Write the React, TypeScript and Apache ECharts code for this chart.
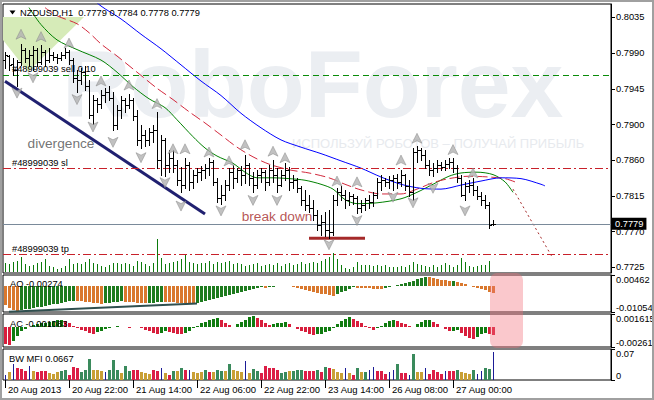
import React, { useEffect, useRef } from 'react';
import * as echarts from 'echarts';

const FONT = '"Liberation Sans", Arial, sans-serif';

const symbolName = 'NZDUSD';
const timeframe = 'H1';
const totalSlots = 152;
const labelEvery = 16;
const xTickLabels = ['20 Aug 2013', '20 Aug 22:00', '21 Aug 14:00', '22 Aug 06:00', '22 Aug 22:00', '23 Aug 14:00', '26 Aug 08:00', '27 Aug 00:00'];

const priceMin = 0.7718;
const priceMax = 0.80515;
const priceTickValues = [0.8035, 0.79907, 0.79464, 0.79021, 0.78579, 0.78136, 0.77693, 0.7725];
const priceTickLabels = ['0.8035', '0.7990', '0.7945', '0.7900', '0.7860', '0.7815', '0.7770', '0.7725'];

// O, H, L, C
const bars: number[][] = [
  [0.7982, 0.7992, 0.7972, 0.7988], [0.7987, 0.7988, 0.7970, 0.7976], [0.7977, 0.7985, 0.7964, 0.7970], [0.7970, 0.7982, 0.7950, 0.7980],
  [0.7980, 0.8002, 0.7976, 0.7995], [0.7995, 0.7997, 0.7980, 0.7985], [0.7985, 0.7995, 0.7975, 0.7988], [0.7988, 0.7999, 0.7970, 0.7995],
  [0.7995, 0.7997, 0.7975, 0.7980], [0.7980, 0.8001, 0.7977, 0.7992], [0.7992, 0.7995, 0.7975, 0.7982], [0.7982, 0.7997, 0.7980, 0.7988],
  [0.7988, 0.7992, 0.7982, 0.7986], [0.7986, 0.7990, 0.7978, 0.7985], [0.7985, 0.7992, 0.7982, 0.7988], [0.7988, 0.7997, 0.7985, 0.7992],
  [0.7992, 0.7995, 0.7977, 0.7982], [0.7982, 0.7985, 0.7955, 0.7960], [0.7960, 0.7970, 0.7942, 0.7957], [0.7957, 0.7972, 0.7952, 0.7967],
  [0.7967, 0.7975, 0.7945, 0.7950], [0.7950, 0.7957, 0.7910, 0.7914], [0.7914, 0.7939, 0.7903, 0.7932], [0.7932, 0.7935, 0.7918, 0.7928],
  [0.7928, 0.7945, 0.7923, 0.7939], [0.7939, 0.7947, 0.7930, 0.7942], [0.7942, 0.7950, 0.7932, 0.7935], [0.7935, 0.7942, 0.7895, 0.7902],
  [0.7902, 0.7926, 0.7897, 0.7920], [0.7920, 0.7937, 0.7910, 0.7932], [0.7932, 0.7935, 0.7918, 0.7926], [0.7926, 0.7940, 0.7923, 0.7932],
  [0.7932, 0.7935, 0.7908, 0.7913], [0.7913, 0.7920, 0.7877, 0.7883], [0.7883, 0.7902, 0.7873, 0.7889], [0.7889, 0.7895, 0.7875, 0.7883],
  [0.7883, 0.7898, 0.7877, 0.7893], [0.7893, 0.7902, 0.7880, 0.7895], [0.7895, 0.7918, 0.7848, 0.7858], [0.7858, 0.7889, 0.7840, 0.7883],
  [0.7883, 0.7885, 0.7838, 0.7852], [0.7852, 0.7870, 0.7843, 0.7861], [0.7861, 0.7871, 0.7843, 0.7852], [0.7852, 0.7858, 0.7827, 0.7833],
  [0.7833, 0.7849, 0.7818, 0.7827], [0.7827, 0.7861, 0.7823, 0.7852], [0.7852, 0.7856, 0.7821, 0.7831], [0.7831, 0.7846, 0.7823, 0.7839],
  [0.7839, 0.7848, 0.7831, 0.7843], [0.7843, 0.7851, 0.7833, 0.7846], [0.7846, 0.7853, 0.7836, 0.7848], [0.7848, 0.7861, 0.7839, 0.7856],
  [0.7856, 0.7858, 0.7827, 0.7831], [0.7831, 0.7836, 0.7806, 0.7811], [0.7811, 0.7827, 0.7804, 0.7815], [0.7815, 0.7833, 0.7808, 0.7827],
  [0.7827, 0.7848, 0.7821, 0.7843], [0.7843, 0.7852, 0.7823, 0.7836], [0.7836, 0.7848, 0.7831, 0.7846], [0.7846, 0.7851, 0.7827, 0.7839],
  [0.7839, 0.7864, 0.7830, 0.7852], [0.7852, 0.7854, 0.7827, 0.7836], [0.7836, 0.7843, 0.7818, 0.7827], [0.7827, 0.7846, 0.7823, 0.7839],
  [0.7839, 0.7848, 0.7831, 0.7843], [0.7843, 0.7846, 0.7821, 0.7831], [0.7831, 0.7852, 0.7827, 0.7846], [0.7846, 0.7858, 0.7831, 0.7839],
  [0.7839, 0.7848, 0.7818, 0.7827], [0.7827, 0.7846, 0.7826, 0.7839], [0.7839, 0.7854, 0.7833, 0.7846], [0.7846, 0.7849, 0.7821, 0.7831],
  [0.7831, 0.7839, 0.7823, 0.7833], [0.7833, 0.7836, 0.7818, 0.7823], [0.7823, 0.7826, 0.7802, 0.7808], [0.7808, 0.7821, 0.7796, 0.7802],
  [0.7802, 0.7815, 0.7794, 0.7799], [0.7799, 0.7808, 0.7784, 0.7790], [0.7790, 0.7796, 0.7771, 0.7778], [0.7778, 0.7790, 0.7765, 0.7781],
  [0.7781, 0.7794, 0.7764, 0.7771], [0.7771, 0.7796, 0.7761, 0.7769], [0.7769, 0.7815, 0.7765, 0.7808], [0.7808, 0.7823, 0.7802, 0.7818],
  [0.7818, 0.7826, 0.7808, 0.7815], [0.7815, 0.7821, 0.7799, 0.7808], [0.7808, 0.7818, 0.7802, 0.7813], [0.7813, 0.7816, 0.7804, 0.7811],
  [0.7811, 0.7813, 0.7792, 0.7799], [0.7799, 0.7808, 0.7794, 0.7802], [0.7802, 0.7811, 0.7796, 0.7808], [0.7808, 0.7815, 0.7799, 0.7806],
  [0.7806, 0.7818, 0.7801, 0.7815], [0.7815, 0.7836, 0.7811, 0.7831], [0.7831, 0.7839, 0.7821, 0.7833], [0.7833, 0.7836, 0.7826, 0.7831],
  [0.7831, 0.7838, 0.7824, 0.7833], [0.7833, 0.7839, 0.7821, 0.7836], [0.7836, 0.7841, 0.7824, 0.7831], [0.7831, 0.7846, 0.7826, 0.7839],
  [0.7839, 0.7841, 0.7821, 0.7826], [0.7826, 0.7833, 0.7813, 0.7818], [0.7818, 0.7873, 0.7808, 0.7868], [0.7868, 0.7875, 0.7856, 0.7870],
  [0.7870, 0.7873, 0.7858, 0.7864], [0.7864, 0.7870, 0.7848, 0.7852], [0.7852, 0.7858, 0.7839, 0.7846], [0.7846, 0.7854, 0.7838, 0.7848],
  [0.7848, 0.7858, 0.7843, 0.7852], [0.7852, 0.7856, 0.7846, 0.7849], [0.7849, 0.7858, 0.7846, 0.7853], [0.7853, 0.7861, 0.7848, 0.7856],
  [0.7856, 0.7861, 0.7843, 0.7848], [0.7848, 0.7852, 0.7831, 0.7836], [0.7836, 0.7839, 0.7813, 0.7815], [0.7815, 0.7831, 0.7808, 0.7826],
  [0.7826, 0.7833, 0.7818, 0.7827], [0.7827, 0.7836, 0.7815, 0.7821], [0.7821, 0.7826, 0.7810, 0.7813], [0.7813, 0.7818, 0.7802, 0.7808],
  [0.7808, 0.7815, 0.7799, 0.7802], [0.7802, 0.7806, 0.7774, 0.7778], [0.7779, 0.7784, 0.7778, 0.7779],
];

const volumes = [
  930, 770, 1000, 1100, 1530, 770, 600, 700, 930, 1000,
  1330, 600, 530, 330, 430, 600, 1330, 770, 870, 770,
  1000, 1270, 870, 770, 600, 500, 670, 870, 930, 830,
  870, 770, 600, 1100, 1000, 770, 600, 930, 3270, 1430,
  770, 930, 1000, 1100, 1330, 1670, 1000, 930, 770, 870,
  930, 1100, 770, 1000, 930, 1000, 1100, 770, 870, 770,
  600, 700, 800, 900, 600, 700, 850, 750, 900, 650,
  800, 950, 700, 850, 1000, 800, 900, 1050, 950, 1100,
  1270, 1530, 1930, 1330, 670, 430, 330, 470, 1000, 730,
  670, 730, 600, 670, 600, 730, 530, 470, 470, 600,
  470, 670, 1000, 770, 670, 600, 530, 670, 470, 670,
  870, 670, 470, 670, 1430, 1000, 600, 470, 600, 670,
  700, 1100, 50,
];
const volumeMax = 4100;

const greenMA = [[6, 0.8047], [9, 0.8026], [13, 0.8007], [18, 0.7995], [24, 0.7982], [28, 0.7967], [32, 0.7949], [36, 0.7934], [40, 0.7923], [43, 0.7908], [47, 0.7887], [50, 0.7873], [53, 0.7863], [57, 0.7854], [60, 0.7843], [63, 0.7836], [67, 0.7836], [71, 0.7835], [75, 0.7833], [79, 0.7828], [82, 0.7822], [85, 0.7809], [88, 0.7804], [93, 0.7805], [99, 0.7810], [103, 0.7818], [107, 0.7828], [111, 0.7838], [114, 0.7842], [118, 0.7843], [122, 0.7840], [125, 0.7831], [127, 0.7818]];
const redMA = [[10, 0.8047], [13, 0.8037], [18, 0.8027], [21, 0.8016], [24, 0.8002], [28, 0.7987], [33, 0.7967], [38, 0.7947], [42, 0.7933], [46, 0.7918], [50, 0.7904], [54, 0.7889], [58, 0.7874], [62, 0.7862], [66, 0.7853], [71, 0.7846], [76, 0.7842], [81, 0.7836], [85, 0.7828], [89, 0.7821], [94, 0.7816], [99, 0.7816], [103, 0.7822], [107, 0.7830], [111, 0.7835], [116, 0.7838], [121, 0.7837], [125, 0.7835], [128, 0.7830]];
const blueMA = [[20, 0.8066], [24, 0.8049], [29, 0.8033], [34, 0.8014], [39, 0.7996], [44, 0.7976], [49, 0.7956], [54, 0.7938], [59, 0.7916], [64, 0.7898], [69, 0.7883], [74, 0.7874], [79, 0.7866], [84, 0.7857], [89, 0.7848], [94, 0.7837], [99, 0.7828], [104, 0.7823], [109, 0.7822], [114, 0.7827], [119, 0.7832], [124, 0.7836], [129, 0.7835], [134, 0.7828], [135, 0.7826]];

const fractalUps = [[4, 0.8014], [9, 0.8011], [16, 0.8003], [24, 0.7956], [31, 0.7951], [38, 0.7928], [42, 0.7872], [45, 0.7872], [51, 0.7868], [56, 0.7857], [60, 0.7877], [67, 0.7869], [70, 0.7861], [83, 0.7832], [88, 0.7831], [99, 0.7858], [103, 0.7885], [112, 0.7871], [117, 0.7842]];
const fractalDowns = [[3, 0.7941], [7, 0.7960], [18, 0.7933], [22, 0.7899], [27, 0.7880], [34, 0.7861], [40, 0.7830], [44, 0.7801], [54, 0.7795], [62, 0.7808], [68, 0.7808], [81, 0.7753], [88, 0.7783], [97, 0.7812], [102, 0.7805], [107, 0.7823], [115, 0.7795]];

const tradeTicket = '#48999039';
const sellLots = '0.10';
const sellLevel = 0.79635;
const slLevel = 0.78478;
const tpLevel = 0.77411;
const bidLevel = 0.7779;

const divergenceLine = [[0, 0.79557], [50, 0.77911]];
const breakDownLine = [[76, 0.7761], [90, 0.7761]];
const projectionLine = [[127, 0.7822], [137, 0.7736]];
const annotations = [
  { name: 'divergence', value: [14, 0.7879], color: '#505050' },
  { name: 'break down', value: [68, 0.7788], color: '#a52a2a' },
];

const aoValues = [
  -0.0077, -0.0090, -0.0097, -0.0101,
  -0.0098, -0.0095, -0.0092, -0.0089, -0.0086, -0.0083, -0.0080, -0.0077, -0.0074, -0.0071, -0.0068, -0.0065, -0.0062, -0.0059,
  -0.0060, -0.0062, -0.0064, -0.0066, -0.0068, -0.0070, -0.0071,
  -0.0070, -0.0068, -0.0066, -0.0064, -0.0062,
  -0.0063, -0.0064, -0.0066, -0.0068, -0.0069, -0.0070,
  -0.0069, -0.0067, -0.0065, -0.0063,
  -0.0064, -0.0065, -0.0066, -0.0067, -0.0068, -0.0069, -0.0070, -0.0071,
  -0.0067, -0.0063, -0.0059, -0.0055, -0.0051, -0.0047, -0.0043, -0.0039, -0.0035, -0.0031,
  -0.0027, -0.0023, -0.0019, -0.0015, -0.0011, -0.0008, -0.0005,
  -0.0006,
  -0.0004, -0.0002, 0.0000, 0.0001, 0.0002,
  0.0000, -0.0003, -0.0006, -0.0010, -0.0014, -0.0018, -0.0022, -0.0026, -0.0030, -0.0033, -0.0036, -0.0038,
  -0.0032, -0.0025, -0.0018, -0.0011, -0.0005,
  -0.0006, -0.0007, -0.0008, -0.0009, -0.0010, -0.0011, -0.0012,
  -0.0008, -0.0004, 0.0000, 0.0004, 0.0008, 0.0012, 0.0016, 0.0022, 0.0028, 0.0034, 0.0038,
  0.0036, 0.0033, 0.0030, 0.0027, 0.0024, 0.0021,
  0.0022,
  0.0018, 0.0013, 0.0008,
  0.0003, -0.0002, -0.0007, -0.0012, -0.0017, -0.0022, -0.00274,
];
const aoMin = -0.01054;
const aoMax = 0.00462;
const aoTickLabels = ['-0.01054', '0.00', '0.00462'];
const aoDivergence = [[1, -0.0104], [48, -0.0071]];

const acValues = [
  -0.0022, -0.0024,
  -0.0019, -0.0012, -0.0006,
  -0.0003, 0.0000, 0.0002, 0.0003, 0.0004, 0.0005, 0.0006, 0.0007, 0.0008, 0.0009,
  0.0007, 0.0004, 0.0001, -0.0002, -0.0004, -0.0006, -0.0008, -0.0009,
  -0.0007, -0.0005, -0.0003, -0.0002,
  0.0000, 0.0001, 0.0000, -0.0001, -0.0002, -0.0001, 0.0000,
  -0.0002, -0.0004, -0.0006, -0.0008, -0.0010,
  -0.0008, -0.0006,
  -0.0007, -0.0008, -0.0009, -0.0010,
  -0.0008, -0.0005, -0.0002, 0.0001, 0.0004, 0.0006, 0.0008, 0.0010, 0.0011,
  0.0008, 0.0005, 0.0002, 0.0000,
  0.0003, 0.0006, 0.0009, 0.0012, 0.0014,
  0.0011, 0.0008, 0.0005, 0.0002,
  0.0003, 0.0004, 0.0005, 0.0006,
  0.0003, 0.0000, -0.0003, -0.0005, -0.0007, -0.0009, -0.0011,
  -0.0010, -0.0009, -0.0007, -0.0005, -0.0002,
  0.0003, 0.0007, 0.0010, 0.0012,
  0.0010, 0.0007, 0.0004, 0.0001, -0.0002, -0.0004,
  -0.0002, 0.0001, 0.0004, 0.0007, 0.0009,
  0.0007, 0.0005, 0.0003, 0.0001, 0.0000,
  0.0003, 0.0006, 0.0008, 0.0009,
  0.0006, 0.0003, 0.0000, -0.0003, -0.0006,
  -0.0005, -0.0004,
  -0.0008, -0.0012, -0.0015, -0.0016,
  -0.0013, -0.0010, -0.0008,
  -0.0010, -0.001083,
];
const acMin = -0.00261;
const acMax = 0.001615;
const acTickLabels = ['-0.00261', '0.00', '0.001615'];

const mfiValues = [
  0.0121, 0.0194, 0.0387, 0.0290, 0.0266, 0.0218, 0.0339, 0.0218, 0.0194, 0.0218,
  0.0218, 0.0169, 0.0145, 0.0194, 0.0218, 0.0242, 0.0121, 0.0315, 0.0290, 0.0194,
  0.0242, 0.0508, 0.0242, 0.0242, 0.0218, 0.0194, 0.0242, 0.0484, 0.0242, 0.0169,
  0.0339, 0.0218, 0.0242, 0.0242, 0.0194, 0.0169, 0.0145, 0.0242, 0.0218, 0.0290,
  0.0169, 0.0121, 0.0218, 0.0218, 0.0290, 0.0242, 0.0242, 0.0194, 0.0169, 0.0194,
  0.0242, 0.0194, 0.0194, 0.0242, 0.0218, 0.0218, 0.0387, 0.0242, 0.0218, 0.0194,
  0.0460, 0.0169, 0.0266, 0.0218, 0.0169, 0.0339, 0.0290, 0.0290, 0.0242, 0.0169,
  0.0194, 0.0218, 0.0218, 0.0242, 0.0242, 0.0218, 0.0218, 0.0218, 0.0242, 0.0194,
  0.0315, 0.0290, 0.0266, 0.0194, 0.0169, 0.0290, 0.0169, 0.0121, 0.0290, 0.0194,
  0.0194, 0.0242, 0.0315, 0.0218, 0.0218, 0.0145, 0.0194, 0.0242, 0.0387, 0.0169,
  0.0169, 0.0121, 0.0629, 0.0194, 0.0194, 0.0290, 0.0145, 0.0242, 0.0194, 0.0145,
  0.0218, 0.0218, 0.0218, 0.0242, 0.0194, 0.0169, 0.0145, 0.0242, 0.0145, 0.0218,
  0.0290, 0.0266, 0.0667,
];
// g = green, b = fade (brown), f = fake (blue), s = squat (red)
const mfiKinds = 'fbfsssfbss' + 'sbbbggsssg' + 'ggbbbfgggb' + 'ggssbbbssf' + 'bsgbgsfbbb' + 'gsbggbgbbb' + 'fbggsssssg' + 'gbgggsssgs' + 'gsbbbfbsgb' + 'gffsssffgs' + 'sfgbbfssss' + 'fssgbbbgff' + 'ggf';
const mfiMax = 0.075;
const mfiTickLabels = ['0', '0.07'];

const watermarkText = 'RoboForex';
const sloganText = 'ИСПОЛЬЗУЙ РОБОТОВ – ПОЛУЧАЙ ПРИБЫЛЬ';

const MFI_COLORS: Record<string, string> = { g: '#3a8a5c', b: '#c9a035', f: '#1c1c96', s: '#dc1e46' };
const AO_UP = '#1e7b1e';
const AO_DOWN = '#d9782d';
const AC_UP = '#107c10';
const AC_DOWN = '#d81e3c';

function nearestLabel(vals: number[], labels: string[]) {
  return (v: number) => {
    let best = 0;
    for (let k = 1; k < vals.length; k++) if (Math.abs(vals[k] - v) < Math.abs(vals[best] - v)) best = k;
    return labels[best];
  };
}

function rectRender(getW: (i: number) => number, getColor: (i: number) => string) {
  return (params: any, api: any) => {
    const i = api.value(0);
    const v = api.value(1);
    const p0 = api.coord([i, 0]);
    const p1 = api.coord([i, v]);
    const w = getW(params.dataIndex);
    const cx = Math.round(p0[0]);
    const x = w === 1 ? cx : cx - 1;
    const y0 = Math.round(p0[1]);
    const y1 = Math.round(p1[1]);
    return {
      type: 'rect',
      shape: { x, y: Math.min(y0, y1), width: w, height: Math.abs(y1 - y0) },
      style: { fill: getColor(params.dataIndex) },
    };
  };
}

function renderOHLC(params: any, api: any) {
  const i = api.value(0);
  const o = api.coord([i, api.value(1)]);
  const h = api.coord([i, api.value(2)]);
  const l = api.coord([i, api.value(3)]);
  const c = api.coord([i, api.value(4)]);
  const n = Math.round(h[0]);
  const x = n + 0.5;
  const yo = Math.round(o[1]) + 0.5;
  const yc = Math.round(c[1]) + 0.5;
  const style = { stroke: '#000', lineWidth: 1 };
  return {
    type: 'group',
    children: [
      { type: 'line', shape: { x1: x, y1: Math.round(h[1]), x2: x, y2: Math.round(l[1]) + 1 }, style },
      { type: 'line', shape: { x1: n - 2, y1: yo, x2: n, y2: yo }, style },
      { type: 'line', shape: { x1: n + 1, y1: yc, x2: n + 3, y2: yc }, style },
    ],
  };
}

function buildOption(): any {
  const categories = Array.from({ length: totalSlots }, (_, i) => String(i));
  const L = 3;
  const R = 43;
  const gridBase = { left: L, right: R, containLabel: false, outerBoundsMode: 'none', borderColor: '#000', borderWidth: 1, backgroundColor: 'transparent' };
  const labelFont = { color: '#000', fontSize: 9.3, fontFamily: FONT };
  const hiddenX = (gi: number) => ({ type: 'category', gridIndex: gi, data: categories, boundaryGap: true, show: false });
  const showLabel = (idx: number) => idx % labelEvery === 0 && idx / labelEvery < xTickLabels.length;

  const indicatorY = (gi: number, min: number, max: number, vals: number[], labels: string[]) => ({
    type: 'value', gridIndex: gi, position: 'right', min, max,
    axisLine: { show: true, lineStyle: { color: '#000' } },
    axisTick: { show: true, length: 4, customValues: vals, lineStyle: { color: '#000' } },
    axisLabel: {
      ...labelFont, margin: 5, customValues: vals, formatter: nearestLabel(vals, labels),
      showMinLabel: true, showMaxLabel: true, verticalAlignMinLabel: 'bottom', verticalAlignMaxLabel: 'top',
    },
    splitLine: { show: false },
  });

  const last = bars[bars.length - 1];
  const headerText = `${symbolName},${timeframe}  ${last.map((v) => v.toFixed(4)).join(' ')}`;
  const redDash = '#c8202a';
  const fractalStyle = { color: '#b2b2b2', borderColor: '#858585', borderWidth: 0.6 };

  return {
    animation: false,
    backgroundColor: '#fff',
    textStyle: { fontFamily: FONT },
    grid: [
      { ...gridBase, top: 4, height: 269, show: true },
      { ...gridBase, top: 231, height: 41, show: false },
      { ...gridBase, top: 275, height: 37, show: true },
      { ...gridBase, top: 314, height: 33, show: true },
      { ...gridBase, top: 349, height: 31, show: true },
    ],
    xAxis: [
      hiddenX(0), hiddenX(1), hiddenX(2), hiddenX(3),
      {
        type: 'category', gridIndex: 4, data: categories, boundaryGap: true,
        axisLine: { show: false },
        axisTick: { show: true, alignWithLabel: true, interval: (idx: number) => showLabel(idx), length: 8, lineStyle: { color: '#000' } },
        axisLabel: {
          ...labelFont, fontSize: 9.5, interval: (idx: number) => showLabel(idx),
          formatter: (_v: string, idx: number) => xTickLabels[idx / labelEvery] ?? '',
          align: 'left', padding: [0, 0, 0, 3], margin: 4,
        },
        splitLine: { show: false },
      },
    ],
    yAxis: [
      {
        type: 'value', gridIndex: 0, position: 'right', min: priceMin, max: priceMax,
        axisLine: { show: true, lineStyle: { color: '#000' } },
        axisTick: { show: true, length: 4, customValues: priceTickValues, lineStyle: { color: '#000' } },
        axisLabel: { ...labelFont, margin: 5, customValues: priceTickValues, formatter: nearestLabel(priceTickValues, priceTickLabels), showMinLabel: true, showMaxLabel: true },
        splitLine: { show: false },
      },
      { type: 'value', gridIndex: 1, min: 0, max: volumeMax, show: false },
      indicatorY(2, aoMin, aoMax, [aoMin, 0, aoMax], aoTickLabels),
      indicatorY(3, acMin, acMax, [acMin, 0, acMax], acTickLabels),
      indicatorY(4, 0, mfiMax, [0, mfiMax], mfiTickLabels),
    ],
    graphic: [
      { type: 'text', x: 62, y: 84, silent: true, z: 0, style: { text: watermarkText, font: `bold 95px ${FONT}`, fill: '#ebeef2', textVerticalAlign: 'middle' } },
      { type: 'text', x: 292, y: 143, silent: true, z: 0, style: { text: sloganText, font: `13px ${FONT}`, fill: '#e7eaee', textVerticalAlign: 'middle' } },
      { type: 'polygon', silent: true, z: 0, shape: { points: [[3, 17], [84, 17], [28, 72], [3, 40]] }, style: { fill: '#d6ebb8' } },
      { type: 'polygon', silent: true, z: 100, shape: { points: [[9.5, 10.5], [15.5, 10.5], [12.5, 14.5]] }, style: { fill: '#000' } },
      { type: 'text', x: 20, y: 12.5, silent: true, z: 100, style: { text: headerText, font: `9.3px ${FONT}`, fill: '#000', textVerticalAlign: 'middle' } },
      { type: 'text', x: 10, y: 283.5, silent: true, z: 100, style: { text: `AO ${aoValues[aoValues.length - 1].toFixed(5)}`, font: `9.3px ${FONT}`, fill: '#000', textVerticalAlign: 'middle' } },
      { type: 'text', x: 10, y: 323.5, silent: true, z: 100, style: { text: `AC ${acValues[acValues.length - 1].toFixed(6)}`, font: `9.3px ${FONT}`, fill: '#000', textVerticalAlign: 'middle' } },
      { type: 'text', x: 9, y: 359, silent: true, z: 100, style: { text: `BW MFI ${mfiValues[mfiValues.length - 1].toFixed(4)}`, font: `9.3px ${FONT}`, fill: '#000', textVerticalAlign: 'middle' } },
      { type: 'rect', silent: true, z: 100, shape: { x: 490, y: 273, width: 33, height: 75, r: 7 }, style: { fill: 'rgba(242,110,120,0.38)' } },
      { type: 'rect', silent: true, z: 200, shape: { x: 1, y: 1, width: 652, height: 398 }, style: { fill: 'none', stroke: '#a0a0a0', lineWidth: 2 } },
    ],
    series: [
      {
        type: 'custom', name: 'Volumes', xAxisIndex: 1, yAxisIndex: 1, z: 1,
        data: volumes.map((v, i) => [i, v]), encode: { x: 0, y: 1 },
        renderItem: rectRender(() => 1, () => '#0b7a0b'),
      },
      {
        type: 'line', name: 'MA green', xAxisIndex: 0, yAxisIndex: 0, data: greenMA, smooth: 0.3, symbol: 'none',
        lineStyle: { color: '#008000', width: 1 }, z: 3,
      },
      {
        type: 'line', name: 'MA red', xAxisIndex: 0, yAxisIndex: 0, data: redMA, smooth: 0.3, symbol: 'none',
        lineStyle: { color: '#d2283c', width: 1, type: [10, 4] }, z: 3,
      },
      {
        type: 'line', name: 'MA blue', xAxisIndex: 0, yAxisIndex: 0, data: blueMA, smooth: 0.3, symbol: 'none',
        lineStyle: { color: '#0000ff', width: 1 }, z: 3,
        markLine: {
          silent: true, symbol: ['none', 'none'], animation: false, precision: 6,
          data: [
            { yAxis: sellLevel, lineStyle: { color: '#0a8c0a', type: [6, 4], width: 1 }, label: { show: true, position: 'insideStartTop', formatter: `${tradeTicket} sell ${sellLots}`, ...labelFont, distance: [9, 1] } },
            { yAxis: slLevel, lineStyle: { color: redDash, type: [8, 3, 2, 3], width: 1 }, label: { show: true, position: 'insideStartTop', formatter: `${tradeTicket} sl`, ...labelFont, distance: [9, 1] } },
            { yAxis: tpLevel, lineStyle: { color: redDash, type: [8, 3, 2, 3], width: 1 }, label: { show: true, position: 'insideStartTop', formatter: `${tradeTicket} tp`, ...labelFont, distance: [9, 1] } },
            { yAxis: bidLevel, lineStyle: { color: '#7a8a9a', type: 'solid', width: 1 }, label: { show: true, position: 'end', formatter: bidLevel.toFixed(4), ...labelFont, color: '#fff', backgroundColor: '#000', padding: [2, 3, 1, 3], distance: 1 } },
          ],
        },
      },
      {
        type: 'line', name: 'divergence', xAxisIndex: 0, yAxisIndex: 0, data: divergenceLine, symbol: 'none',
        lineStyle: { color: '#202070', width: 3 }, z: 4,
      },
      {
        type: 'line', name: 'break down', xAxisIndex: 0, yAxisIndex: 0, data: breakDownLine, symbol: 'none',
        lineStyle: { color: '#a52a2a', width: 3 }, z: 4,
      },
      {
        type: 'line', name: 'projection', xAxisIndex: 0, yAxisIndex: 0, data: projectionLine, symbol: 'none',
        lineStyle: { color: '#a52a2a', width: 1, type: [2, 3] }, z: 4,
      },
      {
        type: 'custom', name: symbolName, xAxisIndex: 0, yAxisIndex: 0, z: 5, clip: true,
        data: bars.map((b, i) => [i, ...b]), encode: { x: 0, y: [1, 2, 3, 4] },
        renderItem: renderOHLC,
      },
      {
        type: 'scatter', name: 'Fractals up', xAxisIndex: 0, yAxisIndex: 0, z: 6, data: fractalUps,
        symbol: 'path://M5,0 L10,10 L5,7.5 L0,10 Z', symbolSize: [10, 10],
        itemStyle: fractalStyle,
      },
      {
        type: 'scatter', name: 'Fractals down', xAxisIndex: 0, yAxisIndex: 0, z: 6, data: fractalDowns,
        symbol: 'path://M0,0 L5,2.5 L10,0 L5,10 Z', symbolSize: [10, 10],
        itemStyle: fractalStyle,
      },
      {
        type: 'scatter', name: 'notes', xAxisIndex: 0, yAxisIndex: 0, z: 7, symbolSize: 0,
        itemStyle: { color: 'transparent' },
        data: annotations.map((a) => ({ name: a.name, value: a.value, label: { color: a.color } })),
        label: { show: true, position: 'inside', formatter: '{b}', fontSize: 13.7, fontFamily: FONT },
      },
      {
        type: 'custom', name: 'AO', xAxisIndex: 2, yAxisIndex: 2, z: 3,
        data: aoValues.map((v, i) => [i, v]), encode: { x: 0, y: 1 },
        renderItem: rectRender(() => 3, (i) => (i > 0 && aoValues[i] > aoValues[i - 1] ? AO_UP : AO_DOWN)),
      },
      {
        type: 'line', name: 'AO divergence', xAxisIndex: 2, yAxisIndex: 2, data: aoDivergence, symbol: 'none',
        lineStyle: { color: '#2f4f4f', width: 2 }, z: 4,
      },
      {
        type: 'custom', name: 'AC', xAxisIndex: 3, yAxisIndex: 3, z: 3,
        data: acValues.map((v, i) => [i, v]), encode: { x: 0, y: 1 },
        renderItem: rectRender(() => 3, (i) => (i > 0 && acValues[i] > acValues[i - 1] ? AC_UP : AC_DOWN)),
      },
      {
        type: 'custom', name: 'BW MFI', xAxisIndex: 4, yAxisIndex: 4, z: 3,
        data: mfiValues.map((v, i) => [i, v]), encode: { x: 0, y: 1 },
        renderItem: rectRender((i) => (mfiKinds[i] === 'f' ? 1 : 3), (i) => MFI_COLORS[mfiKinds[i]] || '#3a8a5c'),
      },
    ],
  };
}

export default function App() {
  const ref = useRef<HTMLDivElement>(null);
  useEffect(() => {
    if (!ref.current) return;
    const chart = echarts.init(ref.current, null, { renderer: 'svg' });
    chart.setOption(buildOption());
    return () => chart.dispose();
  }, []);
  return <div ref={ref} style={{ position: 'absolute', left: 0, top: 0, width: 654, height: 400, background: '#fff' }} />;
}
